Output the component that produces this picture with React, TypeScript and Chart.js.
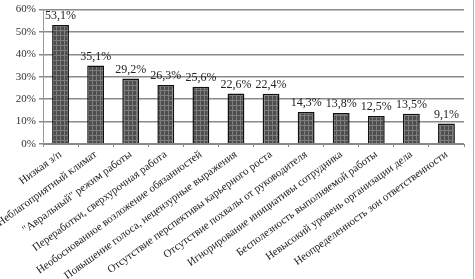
import React, { useEffect, useRef } from "react";
import { Chart, registerables } from "chart.js";

Chart.register(...registerables);

const categories: string[] = [
  "Низкая з/п",
  "Неблагоприятный климат",
  "\"Авральный\" режим работы",
  "Переработки, сверхурочная работа",
  "Необоснованное возложение обязанностей",
  "Повышение голоса, нецензурные выражения",
  "Отсутствие перспективы карьерного роста",
  "Отсутствие похвалы от руководителя",
  "Игнорирование инициативы сотрудника",
  "Бесполезность выполняемой работы",
  "Невысокий уровень организации дела",
  "Неопределенность зон ответственности",
];

const values: number[] = [53.1, 35.1, 29.2, 26.3, 25.6, 22.6, 22.4, 14.3, 13.8, 12.5, 13.5, 9.1];

const yTicks: number[] = [0, 10, 20, 30, 40, 50, 60];

function makePattern(): CanvasPattern | string {
  const c = document.createElement("canvas");
  c.width = 4;
  c.height = 5;
  const g = c.getContext("2d");
  if (!g) return "#555";
  g.fillStyle = "#4e4e4e";
  g.fillRect(0, 0, 4, 5);
  g.fillStyle = "#7d7d7d";
  g.fillRect(0, 0, 4, 1);
  g.fillRect(0, 0, 1, 5);
  const p = g.createPattern(c, "repeat");
  return p || "#555";
}

const dataLabelPlugin = {
  id: "dataLabels",
  afterDatasetsDraw(chart: any) {
    const ctx = chart.ctx;
    const meta = chart.getDatasetMeta(0);
    ctx.save();
    ctx.font = "12px 'Liberation Serif', serif";
    ctx.fillStyle = "#222";
    ctx.textAlign = "center";
    ctx.textBaseline = "bottom";
    meta.data.forEach((bar: any, i: number) => {
      const txt = values[i].toFixed(1).replace(".", ",") + "%";
      ctx.fillText(txt, bar.x, bar.y - 3);
    });
    ctx.restore();
  },
  afterDraw(chart: any) {
    const ctx = chart.ctx;
    ctx.save();
    ctx.strokeStyle = "#b0b0b0";
    ctx.lineWidth = 1;
    ctx.beginPath();
    ctx.moveTo(473.5, 0);
    ctx.lineTo(473.5, chart.height);
    ctx.stroke();
    ctx.restore();
  },
};

export default function App() {
  const ref = useRef<HTMLCanvasElement | null>(null);

  useEffect(() => {
    document.body.style.margin = "0";
    const canvas = ref.current;
    if (!canvas) return;
    const chart = new Chart(canvas, {
      type: "bar",
      data: {
        labels: categories,
        datasets: [
          {
            data: values,
            backgroundColor: makePattern() as any,
            borderColor: "#111",
            borderWidth: 1.5,
            barPercentage: 0.48,
            categoryPercentage: 1,
          },
        ],
      },
      options: {
        responsive: false,
        animation: false,
        layout: { padding: { top: 9, right: 11, left: 0, bottom: 0 } },
        plugins: {
          legend: { display: false },
          tooltip: { enabled: false },
        },
        scales: {
          x: {
            offset: true,
            grid: {
              offset: true,
              drawOnChartArea: false,
              drawTicks: true,
              tickLength: 3,
              color: "#888",
            },
            border: { color: "#888", width: 1 },
            ticks: {
              autoSkip: false,
              minRotation: 36,
              maxRotation: 36,
              padding: 1,
              color: "#222",
              font: { family: "'Liberation Serif', serif", size: 11 },
            },
            afterFit(scale: any) {
              scale.height = 135;
            },
          },
          y: {
            min: 0,
            max: 60,
            afterBuildTicks(scale: any) {
              scale.ticks = yTicks.map((v) => ({ value: v }));
            },
            grid: {
              color: "#8a8a8a",
              lineWidth: 1.5,
              tickLength: 4,
              drawTicks: true,
            },
            border: { color: "#999", width: 1 },
            ticks: {
              padding: 3,
              color: "#333",
              font: { family: "'Liberation Serif', serif", size: 11 },
              callback: (v: any) => v + "%",
            },
            afterFit(scale: any) {
              scale.width = 43;
            },
          },
        },
      },
      plugins: [dataLabelPlugin],
    });
    return () => chart.destroy();
  }, []);

  return <canvas ref={ref} width={475} height={279} style={{ display: "block" }} />;
}
